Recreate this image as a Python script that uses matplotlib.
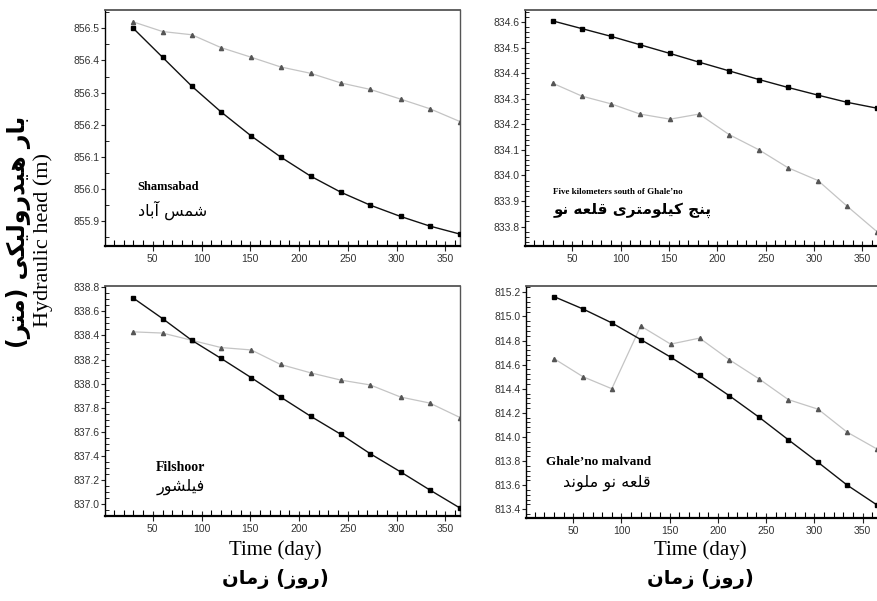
import matplotlib
matplotlib.use('Agg')
import matplotlib.pyplot as plt
from matplotlib.ticker import MultipleLocator, FormatStrFormatter

# day of year for each monthly reading
days = [30, 60, 90, 120, 151, 181, 212, 243, 273, 304, 334, 365]

# Shamsabad
sham_obs = [856.52, 856.49, 856.48, 856.44, 856.41, 856.38, 856.36, 856.33, 856.31, 856.28, 856.25, 856.21]
sham_sim = [856.50, 856.41, 856.32, 856.24, 856.165, 856.10, 856.04, 855.99, 855.95, 855.915, 855.885, 855.86]

# Five kilometers south of Ghale'no
five_obs = [834.36, 834.31, 834.28, 834.24, 834.22, 834.24, 834.16, 834.10, 834.03, 833.98, 833.88, 833.78]
five_sim = [834.604, 834.574, 834.544, 834.511, 834.477, 834.443, 834.409, 834.375, 834.344, 834.314, 834.286, 834.263]

# Filshoor
fil_obs = [838.43, 838.42, 838.36, 838.30, 838.28, 838.16, 838.09, 838.03, 837.99, 837.89, 837.84, 837.72]
fil_sim = [838.71, 838.54, 838.36, 838.21, 838.05, 837.89, 837.73, 837.58, 837.42, 837.27, 837.12, 836.97]

# Ghale'no malvand
mal_obs = [814.65, 814.50, 814.40, 814.92, 814.77, 814.82, 814.64, 814.48, 814.31, 814.23, 814.04, 813.90]
mal_sim = [815.164, 815.062, 814.946, 814.808, 814.662, 814.510, 814.341, 814.162, 813.977, 813.789, 813.601, 813.436]

# persian labels, logical order (escapes so the letter order is unambiguous)
sham_fa = '\u0634\u0645\u0633 \u0622\u0628\u0627\u062F'                       # shams abad
five_fa = ('\u067E\u0646\u062C \u06A9\u06CC\u0644\u0648\u0645\u062A\u0631\u06CC '
           '\u0642\u0644\u0639\u0647 \u0646\u0648')                            # panj kilometri ghale no
fil_fa = '\u0641\u06CC\u0644\u0634\u0648\u0631'                                # filshoor
mal_fa = '\u0642\u0644\u0639\u0647 \u0646\u0648 \u0645\u0644\u0648\u0646\u062F'  # ghale no malvand
ylab_fa = ('\u0628\u0627\u0631 \u0647\u06CC\u062F\u0631\u0648\u0644\u06CC\u06A9\u06CC '
           '(\u0645\u062A\u0631)')                                             # bar hydraulici (metr)
xlab_fa = '(\u0631\u0648\u0632) \u0632\u0645\u0627\u0646'                      # word order as printed

# persian letters -> (isolated, final, initial, medial) presentation forms
FA_FORMS = {
    '\u0627': ('\uFE8D', '\uFE8E', None, None),      # alef
    '\u0622': ('\uFE81', '\uFE82', None, None),      # alef madda
    '\u0628': ('\uFE8F', '\uFE90', '\uFE91', '\uFE92'),  # beh
    '\u067E': ('\uFB56', '\uFB57', '\uFB58', '\uFB59'),  # peh
    '\u062A': ('\uFE95', '\uFE96', '\uFE97', '\uFE98'),  # teh
    '\u062C': ('\uFE9D', '\uFE9E', '\uFE9F', '\uFEA0'),  # jeem
    '\u062F': ('\uFEA9', '\uFEAA', None, None),      # dal
    '\u0631': ('\uFEAD', '\uFEAE', None, None),      # reh
    '\u0632': ('\uFEAF', '\uFEB0', None, None),      # zain
    '\u0633': ('\uFEB1', '\uFEB2', '\uFEB3', '\uFEB4'),  # seen
    '\u0634': ('\uFEB5', '\uFEB6', '\uFEB7', '\uFEB8'),  # sheen
    '\u0639': ('\uFEC9', '\uFECA', '\uFECB', '\uFECC'),  # ain
    '\u0641': ('\uFED1', '\uFED2', '\uFED3', '\uFED4'),  # feh
    '\u0642': ('\uFED5', '\uFED6', '\uFED7', '\uFED8'),  # qaf
    '\u06A9': ('\uFB8E', '\uFB8F', '\uFB90', '\uFB91'),  # keheh
    '\u0644': ('\uFEDD', '\uFEDE', '\uFEDF', '\uFEE0'),  # lam
    '\u0645': ('\uFEE1', '\uFEE2', '\uFEE3', '\uFEE4'),  # meem
    '\u0646': ('\uFEE5', '\uFEE6', '\uFEE7', '\uFEE8'),  # noon
    '\u0647': ('\uFEE9', '\uFEEA', '\uFEEB', '\uFEEC'),  # heh
    '\u0648': ('\uFEED', '\uFEEE', None, None),      # waw
    '\u06CC': ('\uFBFC', '\uFBFD', '\uFBFE', '\uFBFF'),  # farsi yeh
}


def fa(s: str) -> str:  # shape + reverse so it reads right to left
    out = []
    for i, ch in enumerate(s):
        f = FA_FORMS.get(ch)
        if f is None:
            out.append(ch)
            continue
        prev = s[i - 1] if i > 0 else ''
        nxt = s[i + 1] if i + 1 < len(s) else ''
        pj = prev in FA_FORMS and FA_FORMS[prev][2] is not None
        nj = f[2] is not None and nxt in FA_FORMS
        if pj and nj:
            out.append(f[3])
        elif pj:
            out.append(f[1])
        elif nj:
            out.append(f[2])
        else:
            out.append(f[0])
    vis = ''.join(reversed(out))
    return vis.translate(str.maketrans('()', ')('))


W, H = 877, 601
fig = plt.figure(figsize=(W / 100, H / 100), dpi=100)


def make_ax(x0, y0, x1, y1, ylim, ymaj, ymin, right_edge=True):
    ax = fig.add_axes([x0 / W, 1 - y1 / H, (x1 - x0) / W, (y1 - y0) / H])
    ax.set_xlim(1, 365)
    ax.set_ylim(*ylim)
    ax.xaxis.set_major_locator(MultipleLocator(50))
    ax.xaxis.set_minor_locator(MultipleLocator(10))
    ax.yaxis.set_major_locator(MultipleLocator(ymaj))
    ax.yaxis.set_minor_locator(MultipleLocator(ymin))
    ax.yaxis.set_major_formatter(FormatStrFormatter('%.1f'))
    ax.tick_params(axis='x', which='major', direction='inout', length=7, width=0.8, pad=2)
    ax.tick_params(axis='x', which='minor', direction='in', length=4, width=0.8)
    ax.tick_params(axis='y', which='major', direction='out', length=3, width=0.8, pad=1)
    ax.tick_params(axis='y', which='minor', direction='in', length=3, width=0.6)
    ax.tick_params(labelsize=7.5, labelcolor='#333333', colors='#222222')
    for lab in ax.get_xticklabels() + ax.get_yticklabels():
        lab.set_fontfamily('Liberation Sans')
    ax.spines['bottom'].set_linewidth(1.6)
    ax.spines['left'].set_linewidth(1.0)
    ax.spines['top'].set_color('#555555')
    ax.spines['top'].set_linewidth(1.3)
    ax.spines['right'].set_color('#555555')
    ax.spines['right'].set_linewidth(1.0)
    if not right_edge:
        ax.spines['right'].set_visible(False)
    return ax


def draw(ax, obs, sim):
    ax.plot(days, obs, color='#c4c4c4', lw=0.9, marker='^', ms=3,
            mfc='#555555', mec='#555555', zorder=2)
    ax.plot(days, sim, color='#111111', lw=1.0, marker='s', ms=2.6,
            mfc='#000000', mec='#000000', zorder=3)


ax1 = make_ax(105, 10, 460, 246, (855.823, 856.557), 0.1, 0.05)
draw(ax1, sham_obs, sham_sim)
ax1.text(0.09, 0.25, 'Shamsabad', transform=ax1.transAxes, fontsize=9,
         fontweight='bold', family='Liberation Serif', va='center', ha='left')
ax1.text(0.093, 0.15, fa(sham_fa), transform=ax1.transAxes, fontsize=11.5,
         family='DejaVu Sans', va='center', ha='left')

ax2 = make_ax(525, 10, 877, 246, (833.724, 834.647), 0.1, 0.02, right_edge=False)
draw(ax2, five_obs, five_sim)
ax2.text(0.08, 0.229, "Five kilometers south of Ghale\u2019no", transform=ax2.transAxes,
         fontsize=6.5, fontweight='bold', family='Liberation Serif', va='center', ha='left')
ax2.text(0.08, 0.15, fa(five_fa), transform=ax2.transAxes, fontsize=11,
         fontweight='bold', family='DejaVu Sans', va='center', ha='left')

ax3 = make_ax(105, 286, 460, 516, (836.904, 838.81), 0.2, 0.05)
draw(ax3, fil_obs, fil_sim)
ax3.text(0.214, 0.213, 'Filshoor', transform=ax3.transAxes, fontsize=10,
         fontweight='bold', family='Liberation Serif', va='center', ha='center')
ax3.text(0.214, 0.126, fa(fil_fa), transform=ax3.transAxes, fontsize=11.5,
         family='DejaVu Sans', va='center', ha='center')

ax4 = make_ax(526, 286, 877, 518, (813.328, 815.252), 0.2, 0.04, right_edge=False)
draw(ax4, mal_obs, mal_sim)
ax4.text(0.356, 0.241, "Ghale\u2019no malvand", transform=ax4.transAxes, fontsize=9.5,
         fontweight='bold', family='Liberation Serif', va='center', ha='right')
ax4.text(0.356, 0.151, fa(mal_fa), transform=ax4.transAxes, fontsize=11.5,
         family='DejaVu Sans', va='center', ha='right')

# shared labels
fig.text(19 / W, 1 - 232 / H, fa(ylab_fa), rotation=90, fontsize=17,
         fontweight='bold', family='DejaVu Sans', ha='center', va='center')
fig.text(43 / W, 1 - 240 / H, 'Hydraulic head (m)', rotation=90, fontsize=16,
         family='Liberation Serif', ha='center', va='center')

for cx in [275, 700]:
    fig.text(cx / W, 1 - 550 / H, 'Time (day)', fontsize=15, family='Liberation Serif',
             ha='center', va='center')
    fig.text(cx / W, 1 - 579 / H, fa(xlab_fa), fontsize=14, fontweight='bold',
             family='DejaVu Sans', ha='center', va='center')

plt.savefig('out.png', dpi=100)
